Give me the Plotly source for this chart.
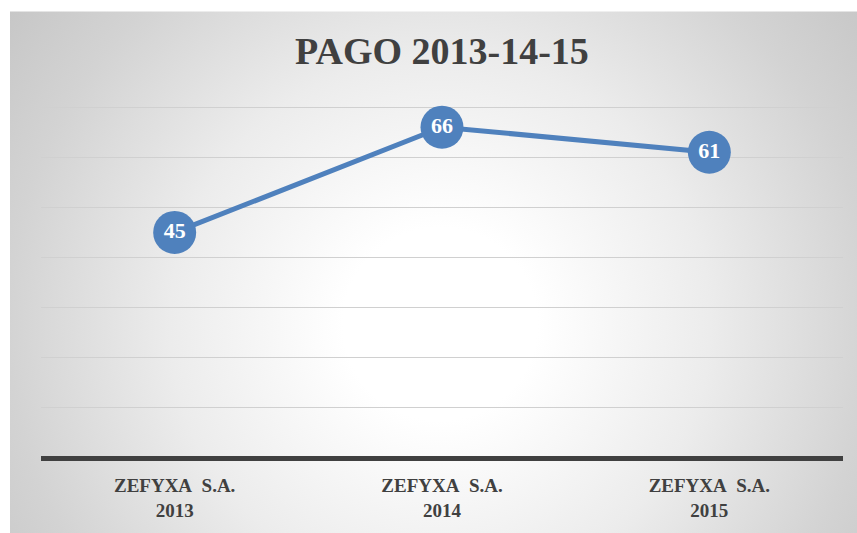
import base64
import plotly.graph_objects as go

# ---- data ----
categories = ["ZEFYXA\u00a0\u00a0S.A.<br>2013", "ZEFYXA\u00a0\u00a0S.A.<br>2014", "ZEFYXA\u00a0\u00a0S.A.<br>2015"]
values = [45, 66, 61]
title_text = "PAGO 2013-14-15"

# ---- layout geometry ----
W, H = 857, 533
ML, MR, MT, MB = 41, 14, 57, 72
PW, PH = W - ML - MR, H - MT - MB
BG_X0, BG_Y0 = 10, 11  # chart background offset (white strip top/left)

FONT = "Liberation Serif, Times New Roman, serif"
TXT = "#404040"
BLUE = "#4f81bd"

bw, bh = W - BG_X0 + 20, H - BG_Y0 + 20
svg = f'''<svg xmlns="http://www.w3.org/2000/svg" width="{bw}" height="{bh}" viewBox="0 0 {bw} {bh}" preserveAspectRatio="none">
<defs><radialGradient id="g" gradientUnits="userSpaceOnUse" cx="430" cy="315" r="540">
<stop offset="0" stop-color="#ffffff"/>
<stop offset="0.18" stop-color="#ffffff"/>
<stop offset="0.5" stop-color="#ececec"/>
<stop offset="0.8" stop-color="#d3d3d3"/>
<stop offset="1" stop-color="#c6c6c6"/>
</radialGradient></defs>
<rect x="0" y="0" width="{bw}" height="{bh}" fill="url(#g)"/>
</svg>'''
src = "data:image/svg+xml;base64," + base64.b64encode(svg.encode()).decode()

fig = go.Figure()
fig.add_trace(go.Scatter(
    x=categories, y=values, mode="lines+markers+text",
    line=dict(color=BLUE, width=5),
    marker=dict(size=43, color=BLUE, line=dict(width=0)),
    text=[str(v) for v in values], textposition="middle center",
    textfont=dict(family=FONT, size=22, color="white", weight="bold"),
    cliponaxis=False, hoverinfo="skip", showlegend=False,
))

fig.update_layout(
    width=W, height=H,
    margin=dict(l=ML, r=MR, t=MT, b=MB, pad=0),
    paper_bgcolor="white", plot_bgcolor="rgba(0,0,0,0)",
    title=dict(text=f"<b>{title_text}</b>", x=0.5, xanchor="center", xref="paper",
               y=1 - 51 / H, yanchor="middle",
               font=dict(family=FONT, size=38, color=TXT)),
    images=[dict(source=src, xref="paper", yref="paper",
                 x=(BG_X0 - ML) / PW, y=(H - MB - BG_Y0) / PH,
                 sizex=bw / PW, sizey=bh / PH,
                 xanchor="left", yanchor="top", sizing="stretch", layer="below")],
    xaxis=dict(type="category", range=[-0.5, 2.5], showgrid=False, zeroline=False,
               showline=False, ticks="", ticklabelstandoff=14,
               tickfont=dict(family=FONT, size=19, color=TXT, weight="bold")),
    yaxis=dict(range=[0, 80], dtick=10, showticklabels=False, ticks="",
               showgrid=True, gridcolor="#d0d0d0", gridwidth=1,
               zeroline=True, zerolinecolor="#404040", zerolinewidth=4.5,
               showline=False),
)

fig.write_html("out.html", config={"displayModeBar": False},
               post_script="document.body.style.margin='0';")
